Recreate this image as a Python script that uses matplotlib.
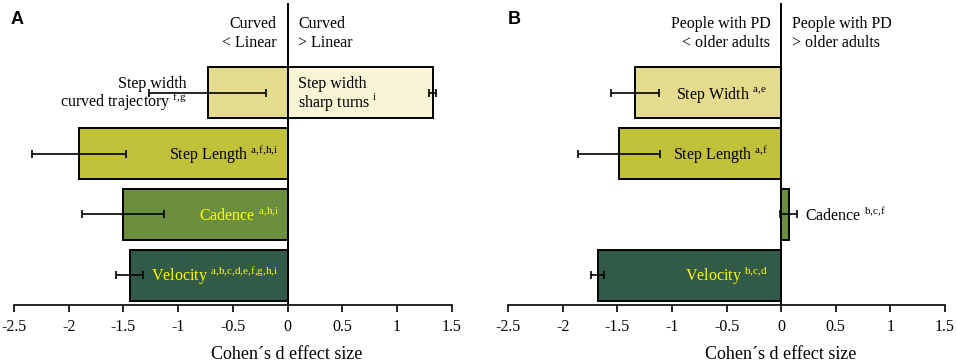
import numpy as np
from matplotlib import pyplot as plt

plt.rcParams['font.family'] = 'Liberation Serif'
plt.rcParams['mathtext.fontset'] = 'custom'
plt.rcParams['mathtext.rm'] = 'Liberation Serif'

# row order, bottom to top
rowNames = ["Velocity", "Cadence", "Step Length", "Step Width"]

# panel A: curved vs linear walking
aRows = ["Step Width", "Step Width", "Step Length", "Cadence", "Velocity"]
aValues = [-0.73, 1.325, -1.905, -1.505, -1.444]
aErrors = [0.535, 0.03, 0.43, 0.373, 0.126]
aColors = ["#e4db8f", "#f8f5d6", "#c2c13a", "#6b8f3f", "#325a48"]
aLabels = ["Step width\ncurved trajectory", "Step width\nsharp turns",
           "Step Length", "Cadence", "Velocity"]
aSups = ["f,g", "i", "a,f,h,i", "a,h,i", "a,b,c,d,e,f,g,h,i"]

# panel B: people with PD vs older adults
bRows = ["Step Width", "Step Length", "Cadence", "Velocity"]
bValues = [-1.343, -1.483, 0.067, -1.682]
bErrors = [0.22, 0.377, 0.08, 0.062]
bColors = ["#e4db8f", "#c2c13a", "#6b8f3f", "#325a48"]
bLabels = ["Step Width", "Step Length", "Cadence", "Velocity"]
bSups = ["a,e", "a,f", "b,c,f", "b,c,d"]

xTicks = [-2.5, -2, -1.5, -1, -0.5, 0, 0.5, 1, 1.5]
xTickLabels = ["-2.5", "-2", "-1.5", "-1", "-0.5", "0", "0.5", "1", "1.5"]

FS = 11.5
LINE_STEP = 0.31     # baseline distance between two text lines (data units)


def textColor(color):
  return "#ffff00" if color in ("#6b8f3f", "#325a48") else "black"


def supText(sup):
  return r"$^{\mathrm{" + sup.replace(",", "{,}") + "}}$"


def drawLines(ax, x, y, lines, ha, color):
  # baseline of first line: one-liners sit a bit below the row centre,
  # two-liners straddle it
  top = y - 0.1 if len(lines) == 1 else y + 0.085
  for i, line in enumerate(lines):
    ax.text(x, top - i * LINE_STEP, line, ha=ha, va="baseline", fontsize=FS,
            color=color, zorder=4)


def drawPanel(ax, rows, values, errors, colors, labels, sups, headers,
              placements):
  ypos = [rowNames.index(r) for r in rows]
  ax.barh(ypos, values, height=0.84, color=colors, edgecolor="black",
          linewidth=1.4, xerr=errors, zorder=2,
          error_kw=dict(ecolor="black", elinewidth=1.2, capsize=3,
                        capthick=1.2))
  ax.axvline(0, color="black", lw=1.4, zorder=3)
  for y, lab, sup, col, (xt, ha, tc) in zip(ypos, labels, sups, colors,
                                            placements):
    lines = lab.split("\n")
    lines[-1] = lines[-1] + " " + supText(sup)
    drawLines(ax, xt, y, lines, ha, tc if tc else textColor(col))
  drawLines(ax, -0.1, 3.98, headers[0].split("\n"), "right", "black")
  drawLines(ax, 0.1, 3.98, headers[1].split("\n"), "left", "black")
  ax.set_xlim(-2.5, 1.5)
  ax.set_ylim(-0.49, 4.48)
  ax.set_xticks(xTicks)
  ax.set_xticklabels(xTickLabels, fontsize=11.5)
  ax.set_yticks([])
  for s in ("left", "right", "top"):
    ax.spines[s].set_visible(False)
  ax.spines["bottom"].set_linewidth(1.2)
  ax.tick_params(axis="x", direction="out", length=5, width=1.2, pad=5)
  ax.set_xlabel("Cohen´s d effect size", fontsize=13)
  ax.xaxis.set_label_coords(0.624, -0.135)


fig = plt.figure(figsize=(9.57, 3.63), dpi=100)
axA = fig.add_axes([0.0146, 0.1598, 0.4574, 0.832])
axB = fig.add_axes([0.5311, 0.1598, 0.4563, 0.832])

drawPanel(axA, aRows, aValues, aErrors, aColors, aLabels, aSups,
          ["Curved\n< Linear", "Curved\n> Linear"],
          [(-0.92, "right", "black"), (0.1, "left", "black"),
           (-0.08, "right", None), (-0.08, "right", None),
           (-0.08, "right", None)])
drawPanel(axB, bRows, bValues, bErrors, bColors, bLabels, bSups,
          ["People with PD\n< older adults", "People with PD\n> older adults"],
          [(-0.13, "right", None), (-0.12, "right", None),
           (0.22, "left", "black"), (-0.125, "right", None)])

fig.text(0.0105, 0.935, "A", fontsize=13, fontweight="bold",
         family="Liberation Sans")
fig.text(0.531, 0.935, "B", fontsize=13, fontweight="bold",
         family="Liberation Sans")

fig.savefig("out.png", dpi=100)
